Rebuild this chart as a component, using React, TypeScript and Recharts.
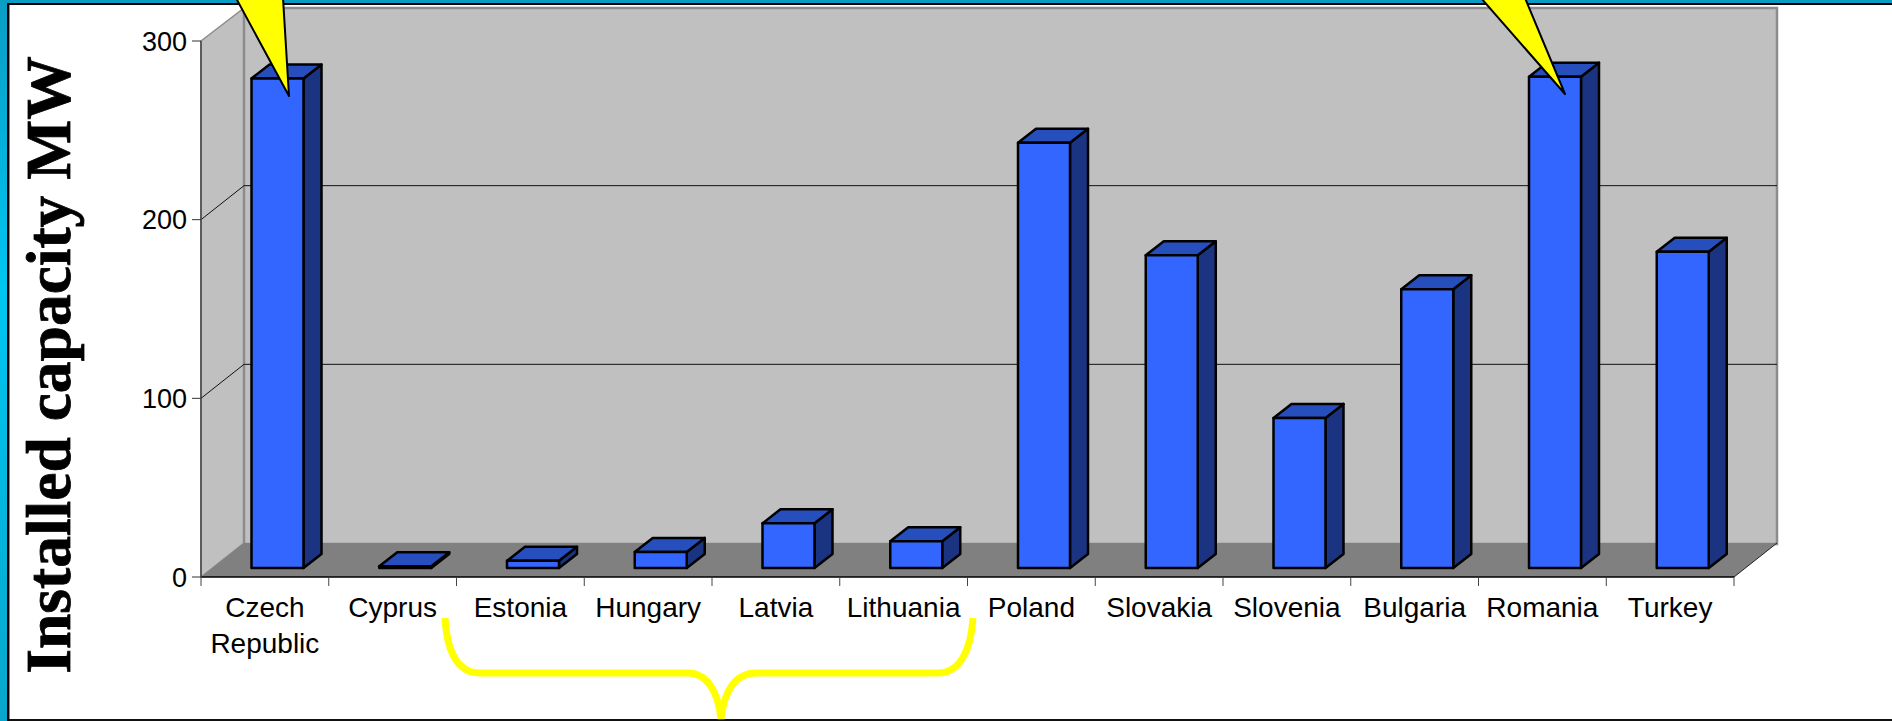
import { BarChart, Bar, XAxis, YAxis, CartesianGrid } from "recharts";

const countries = [
    "Czech Republic",
    "Cyprus",
    "Estonia",
    "Hungary",
    "Latvia",
    "Lithuania",
    "Poland",
    "Slovakia",
    "Slovenia",
    "Bulgaria",
    "Romania",
    "Turkey",
];
const capacity = [274, 1, 4, 9, 25, 15, 238, 175, 84, 156, 275, 177];
const yTicks = [0, 100, 200, 300];

const chartData = countries.map((name, i) => ({ name, capacity: capacity[i] }));

const W = 1892;
const H = 721;
// plot box of the front plane
const LEFT = 201;
const RIGHT = 1734;
const TOP = 41;
const BOTTOM = 577;
const BAND = (RIGHT - LEFT) / countries.length;
// 3d look of the walls and the bars
const WALL_DX = 43;
const WALL_DY = 34;
const BAR_DX = 18;
const BAR_DY = 14;
const BAR_SHIFT_X = 12.5;
const BAR_SHIFT_Y = 9;

const FONT = "'Liberation Sans', Arial, sans-serif";

const Bar3D = (props: any) => {
    const { x, y, width, height } = props;
    const l = x + BAR_SHIFT_X;
    const r = l + width;
    const t = y - BAR_SHIFT_Y;
    const b = t + height;
    const edge = { stroke: "#000", strokeWidth: 2.5, strokeLinejoin: "round" as const };
    return (
        <g>
            <path
                d={`M${r} ${t}L${r + BAR_DX} ${t - BAR_DY}V${b - BAR_DY}L${r} ${b}Z`}
                fill="#1a3482"
                {...edge}
            />
            <path
                d={`M${l} ${t}L${l + BAR_DX} ${t - BAR_DY}H${r + BAR_DX}L${r} ${t}Z`}
                fill="#264fbd"
                {...edge}
            />
            <rect x={l} y={t} width={width} height={height} fill="#3366ff" {...edge} />
        </g>
    );
};

const GridLine = (props: any) => {
    const { x1, x2, y1 } = props;
    if (y1 <= TOP + 1 || y1 >= BOTTOM - 1) return <g />;
    return (
        <path
            d={`M${x1} ${y1}L${x1 + WALL_DX} ${y1 - WALL_DY}H${x2 + WALL_DX}`}
            fill="none"
            stroke="#111"
            strokeWidth={1}
        />
    );
};

const CountryTick = (props: any) => {
    const { x, y, payload, index } = props;
    const words: string[] = String(payload.value).split(" ");
    const tickLeft = x - BAND / 2;
    return (
        <g>
            <line x1={tickLeft} x2={tickLeft} y1={y} y2={y + 9} stroke="#444" />
            {index === countries.length - 1 && (
                <line x1={x + BAND / 2} x2={x + BAND / 2} y1={y} y2={y + 9} stroke="#444" />
            )}
            {words.map((w, i) => (
                <text
                    key={w}
                    x={x}
                    y={y + 40 + i * 36}
                    textAnchor="middle"
                    fontFamily={FONT}
                    fontSize={28}
                    fill="#000"
                >
                    {w}
                </text>
            ))}
        </g>
    );
};

const Backdrop = () => (
    <svg width={W} height={H} style={{ position: "absolute", left: 0, top: 0 }}>
        <defs>
            <linearGradient id="edge" x1="0" y1="0" x2="0" y2="1">
                <stop offset="0" stopColor="#0a9cc4" />
                <stop offset="0.4" stopColor="#00c6f2" />
                <stop offset="1" stopColor="#08a6cc" />
            </linearGradient>
        </defs>
        <rect x={0} y={0} width={W} height={H} fill="#fff" />
        <rect x={0} y={0} width={W} height={3} fill="#0a9cc4" />
        <rect x={0} y={0} width={7} height={H} fill="url(#edge)" />
        <rect x={7} y={3} width={W} height={2} fill="#000" />
        <rect x={7} y={3} width={2} height={H} fill="#000" />
        <rect x={9} y={5} width={1} height={H} fill="#888" />
        <rect x={9} y={719} width={W} height={2} fill="#111" />
        {/* side wall */}
        <path
            d={`M${LEFT} ${TOP}L${LEFT + WALL_DX} ${TOP - WALL_DY + 1}V${BOTTOM - WALL_DY}L${LEFT} ${BOTTOM}Z`}
            fill="#c0c0c0"
            stroke="#8c8c8c"
            strokeWidth={1.5}
        />
        {/* back wall */}
        <rect
            x={LEFT + WALL_DX}
            y={TOP - WALL_DY + 1}
            width={RIGHT - LEFT}
            height={BOTTOM - TOP}
            fill="#c0c0c0"
            stroke="#8c8c8c"
            strokeWidth={2.5}
        />
        {/* floor */}
        <path
            d={`M${LEFT} ${BOTTOM}L${LEFT + WALL_DX} ${BOTTOM - WALL_DY}H${RIGHT + WALL_DX}L${RIGHT} ${BOTTOM}Z`}
            fill="#808080"
        />
        <line
            x1={RIGHT}
            y1={BOTTOM}
            x2={RIGHT + WALL_DX}
            y2={BOTTOM - WALL_DY}
            stroke="#222"
            strokeWidth={1}
        />
    </svg>
);

const Overlay = () => (
    <svg width={W} height={H} style={{ position: "absolute", left: 0, top: 0 }}>
        <text
            transform="translate(70 365) rotate(-90)"
            textAnchor="middle"
            fontFamily="'Liberation Serif', 'Times New Roman', serif"
            fontWeight="bold"
            fontSize={63.5}
            fill="#000"
            stroke="#000"
            strokeWidth={0.8}
        >
            Installed capacity MW
        </text>
        <path d="M236 -2L289 96L283 -2Z" fill="#ffff00" stroke="#000" strokeWidth={2} strokeLinejoin="round" />
        <path d="M1481 -2L1565 94L1525 -2Z" fill="#ffff00" stroke="#000" strokeWidth={2} strokeLinejoin="round" />
        <path
            d="M445 618C447 650 456 673 480 673H688C706 673 718 690 721 719C724 690 736 673 756 673H938C960 673 971 650 973 618"
            fill="none"
            stroke="#ffff00"
            strokeWidth={7}
        />
    </svg>
);

export default function App() {
    return (
        <div style={{ position: "absolute", left: 0, top: 0, width: W, height: H, overflow: "hidden" }}>
            <Backdrop />
            <div style={{ position: "absolute", left: 0, top: 0 }}>
                <BarChart
                    width={W}
                    height={H}
                    data={chartData}
                    barSize={52}
                    margin={{ left: LEFT - 60, right: W - RIGHT, top: TOP, bottom: H - BOTTOM - 90 }}
                >
                    <CartesianGrid vertical={false} horizontal={GridLine} />
                    <XAxis
                        dataKey="name"
                        height={90}
                        interval={0}
                        tickLine={false}
                        tickSize={0}
                        tickMargin={0}
                        axisLine={{ stroke: "#000", strokeWidth: 1.5 }}
                        tick={CountryTick}
                    />
                    <YAxis
                        width={60}
                        domain={[0, 300]}
                        ticks={yTicks}
                        tickSize={9}
                        tickMargin={5}
                        tickLine={{ stroke: "#333" }}
                        axisLine={{ stroke: "#444", strokeWidth: 1.5 }}
                        tick={{ fontFamily: FONT, fontSize: 27, fill: "#000" }}
                    />
                    <Bar dataKey="capacity" isAnimationActive={false} shape={Bar3D} />
                </BarChart>
            </div>
            <Overlay />
        </div>
    );
}
